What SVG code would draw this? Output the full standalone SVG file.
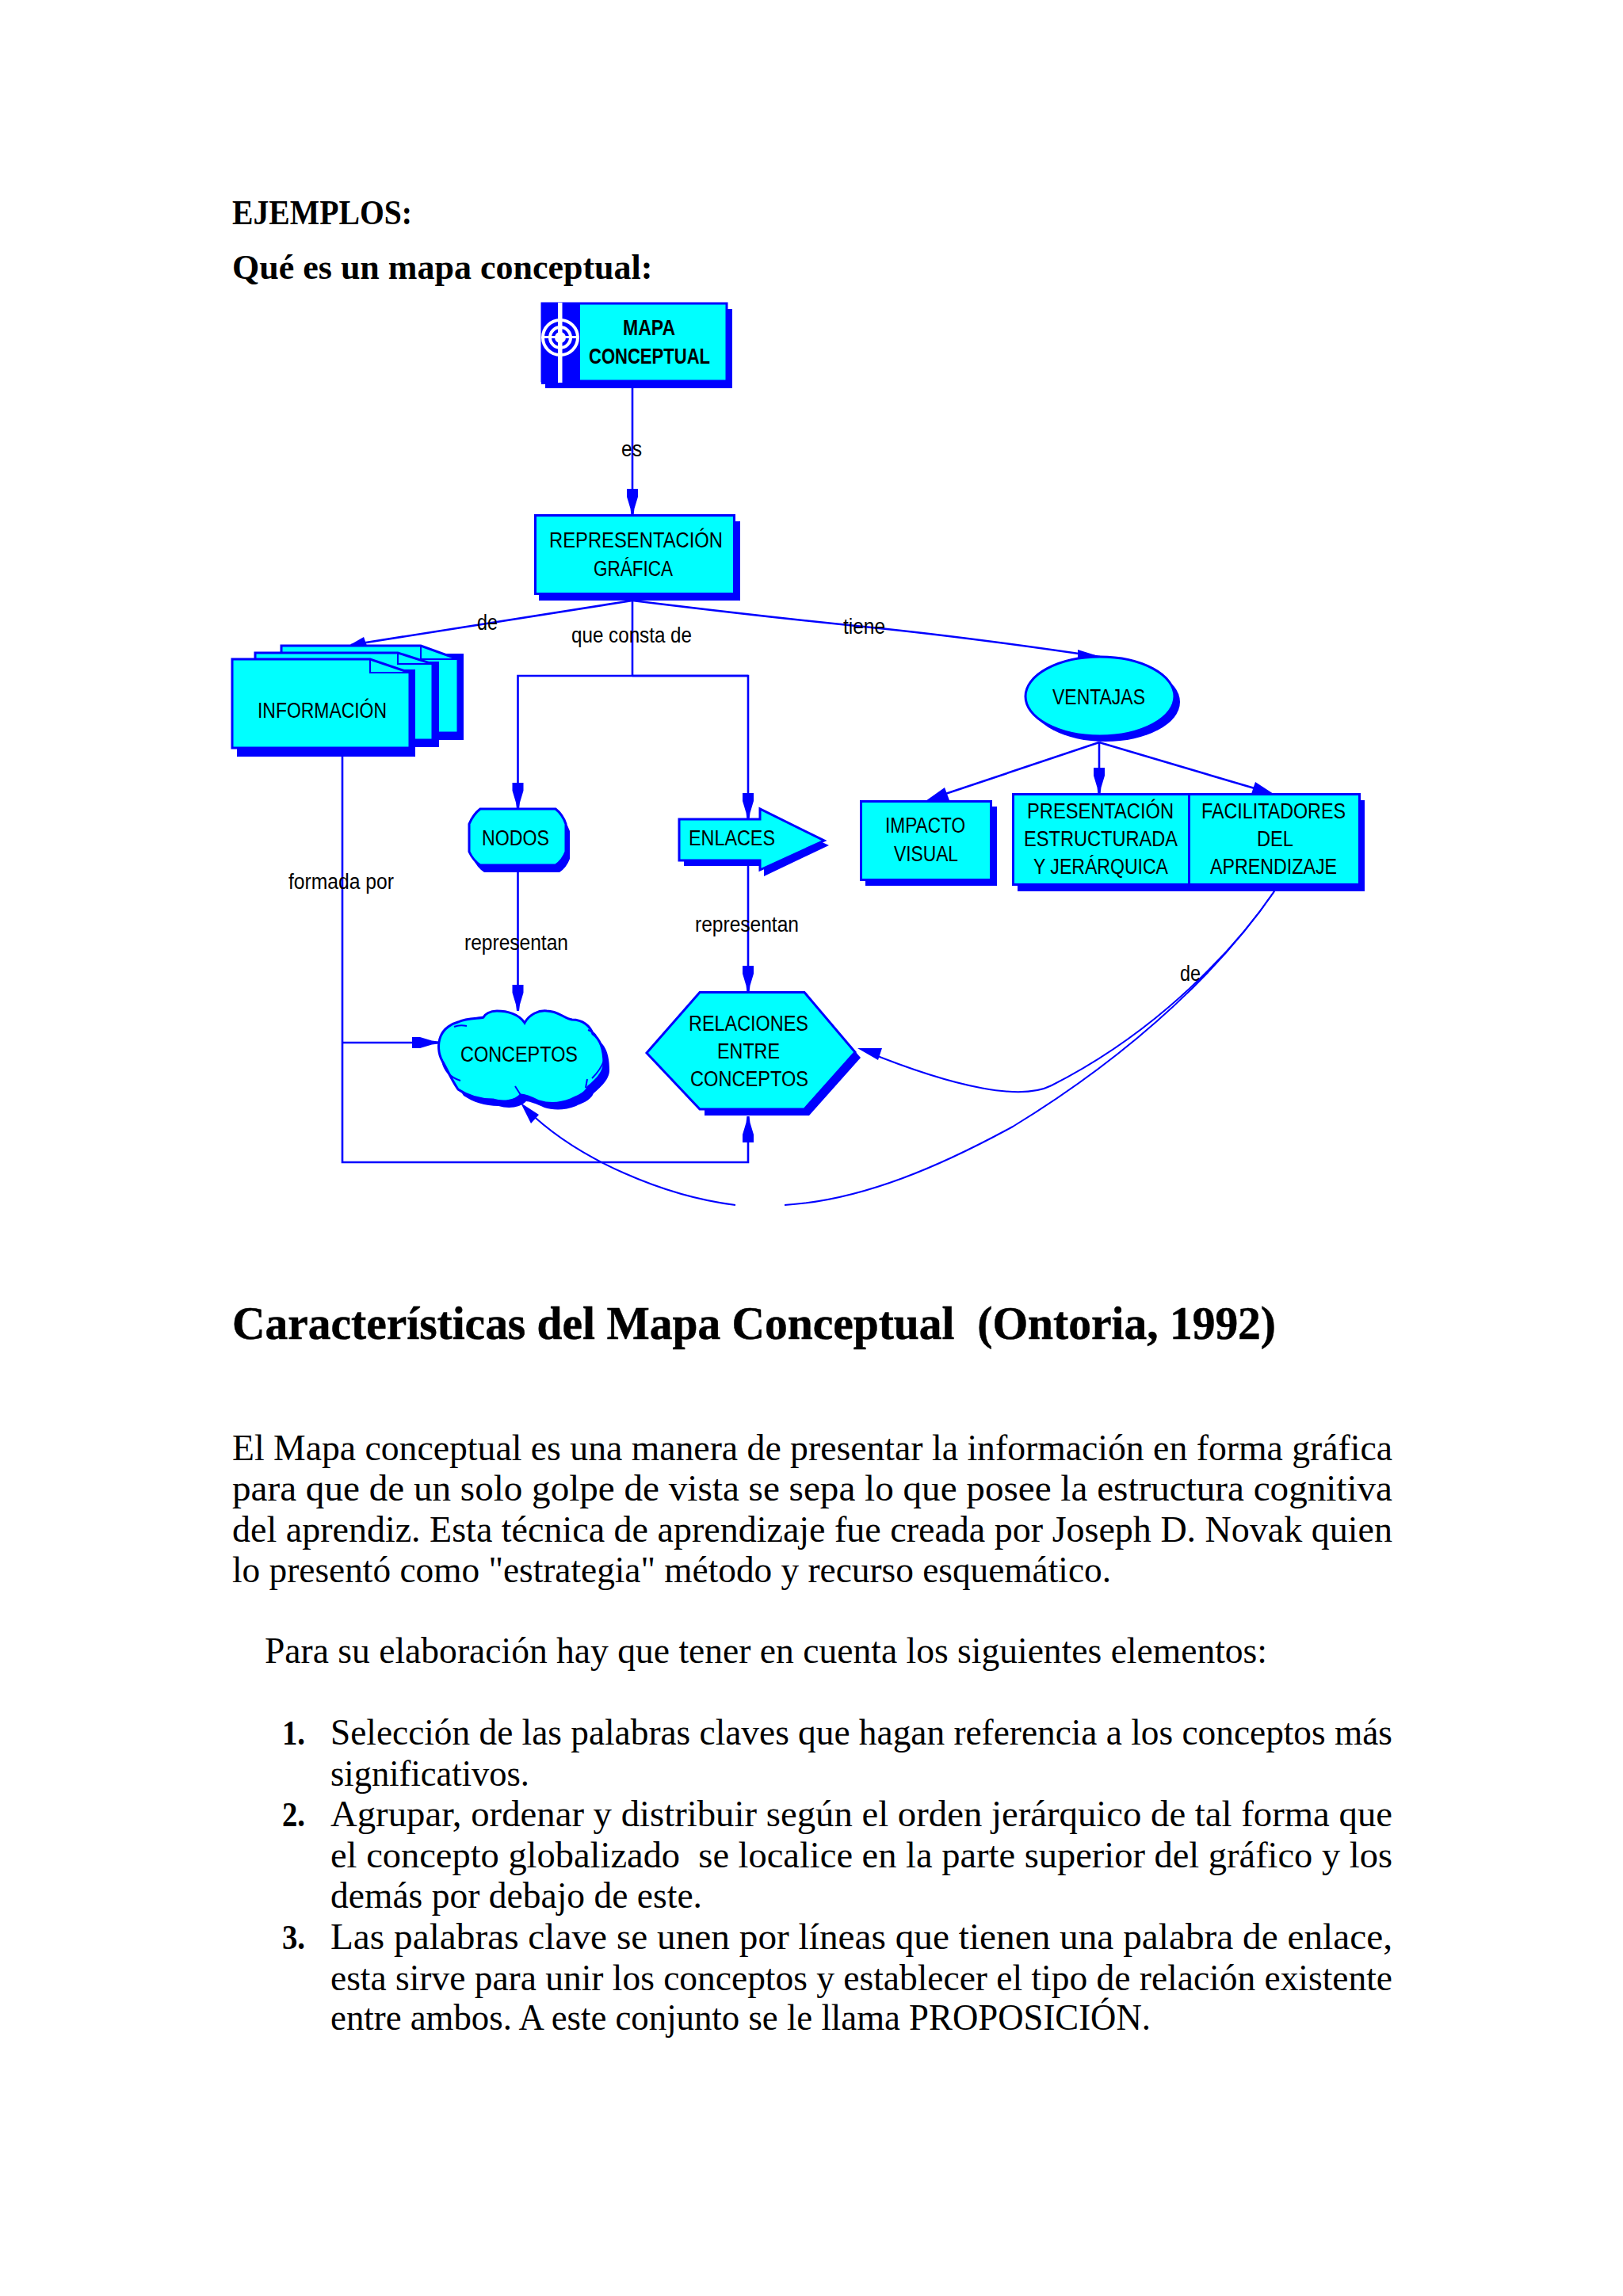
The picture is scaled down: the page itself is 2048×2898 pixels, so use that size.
<svg xmlns="http://www.w3.org/2000/svg" width="2048" height="2898" viewBox="0 0 2048 2898">
<style>
.t{font-family:"Liberation Serif",serif;font-size:46px;fill:#000;white-space:pre}
.h{font-family:"Liberation Serif",serif;font-weight:bold;font-size:44px;fill:#000;white-space:pre}
.l{font-family:"Liberation Sans",sans-serif;font-size:27px;fill:#000}
.b{font-weight:bold}
.n{fill:#0ff;stroke:#00f;stroke-width:3}
.s{fill:#00f}
.c{fill:none;stroke:#00f;stroke-width:2.6}
.thin{fill:none;stroke:#00f;stroke-width:2}
.w{fill:none;stroke:#fff;stroke-width:4}
</style>
<defs><marker id="a" markerUnits="userSpaceOnUse" markerWidth="34" markerHeight="16" refX="33" refY="7" orient="auto"><path d="M0 0L10 0L25 4.500L33 5.500V8.500L25 9.500L10 14L0 14Z" fill="#00f"/></marker></defs>
<rect width="2048" height="2898" fill="#fff"/>

<g id="page-text-top">
<text class="h" x="293" y="283" textLength="227" lengthAdjust="spacingAndGlyphs">EJEMPLOS:</text>
<text class="h" x="293" y="352">Qué es un mapa conceptual:</text>
</g>

<g id="connectors">
<path class="c" d="M798 489V650" marker-end="url(#a)"/>
<path class="c" d="M798 758L443 814"/>
<path class="s" d="M438 816L459 804L463 815Z"/>
<path class="c" d="M798 758Q960 778 1090 791T1388 829"/>
<path class="s" d="M1360 820L1392 830L1360 833Z"/>
<path class="c" d="M798 758V853"/>
<path class="c" d="M944 853H653.500V1021" marker-end="url(#a)"/>
<path class="c" d="M798 853H944V1034" marker-end="url(#a)"/>
<path class="c" d="M653.500 1100V1276" marker-end="url(#a)"/>
<path class="c" d="M944 1090V1252" marker-end="url(#a)"/>
<path class="c" d="M432 955V1467H944V1409" marker-end="url(#a)"/>
<path class="c" d="M432 1316H553" marker-end="url(#a)"/>
<path class="c" d="M1387 937L1175 1008"/>
<path class="s" d="M1168 1011L1192 994L1198 1010Z"/>
<path class="c" d="M1387 937V1002" marker-end="url(#a)"/>
<path class="c" d="M1387 937L1600 1000"/>
<path class="s" d="M1584 987L1607 1002L1579 1002Z"/>
<path class="thin" d="M1608 1125C1560 1195 1465 1300 1327 1370C1290 1389 1210 1375 1090 1326"/>
<path class="s" d="M1082 1323L1113 1323L1108 1338Z"/>
<path class="thin" d="M1608 1125C1550 1210 1445 1320 1278 1422C1190 1470 1090 1515 990 1521"/>
<path class="thin" d="M928 1521C840 1510 730 1465 664 1400"/>
<path class="s" d="M657 1392L680 1407L670 1418Z"/>
</g>

<g id="mapa">
<rect class="s" x="688" y="390" width="236" height="100"/>
<rect class="n" x="684" y="383" width="233" height="98"/>
<rect class="s" x="683" y="382" width="49" height="103"/>
<circle class="w" cx="707" cy="426" r="22"/><circle class="w" cx="707" cy="426" r="13"/>
<circle cx="707" cy="426" r="7" fill="#fff"/>
<rect x="704" y="382" width="5.500" height="101" fill="#fff"/>
<rect x="684" y="424" width="47" height="3" fill="#fff"/>
<text class="l b" x="786" y="423" textLength="66" lengthAdjust="spacingAndGlyphs">MAPA</text>
<text class="l b" x="743" y="459" textLength="153" lengthAdjust="spacingAndGlyphs">CONCEPTUAL</text>
</g>

<g id="representacion">
<rect class="s" x="680" y="658" width="254" height="100"/>
<rect class="n" x="675.500" y="650.500" width="251" height="99"/>
<text class="l" x="693" y="691" textLength="219" lengthAdjust="spacingAndGlyphs">REPRESENTACIÓN</text>
<text class="l" x="749" y="727" textLength="100" lengthAdjust="spacingAndGlyphs">GRÁFICA</text>
</g>

<g id="informacion">
<rect class="s" x="365" y="825" width="220" height="109"/>
<path class="n" d="M355 815H531L578 832V925H355Z"/><path class="thin" d="M531 815V832H578"/>
<rect class="s" x="330" y="835" width="224" height="108"/>
<path class="n" d="M322 824H502L546 838V934H322Z"/><path class="thin" d="M502 824V838H546"/>
<rect class="s" x="299" y="845" width="225" height="110"/>
<path class="n" d="M293 832H467L517 849V944H293Z"/><path class="thin" d="M467 832V849H517"/>
<text class="l" x="325" y="906" textLength="163" lengthAdjust="spacingAndGlyphs">INFORMACIÓN</text>
</g>

<g id="ventajas">
<ellipse class="s" cx="1395" cy="886" rx="94" ry="50"/>
<ellipse class="n" cx="1388" cy="879" rx="94" ry="50"/>
<text class="l" x="1328" y="889" textLength="117" lengthAdjust="spacingAndGlyphs">VENTAJAS</text>
</g>

<g id="impacto">
<rect class="s" x="1092" y="1018" width="166" height="100"/>
<rect class="n" x="1086.500" y="1011.500" width="164" height="99"/>
<text class="l" x="1117" y="1051" textLength="101" lengthAdjust="spacingAndGlyphs">IMPACTO</text>
<text class="l" x="1128" y="1087" textLength="81" lengthAdjust="spacingAndGlyphs">VISUAL</text>
</g>

<g id="presentacion">
<rect class="s" x="1284" y="1010" width="438" height="115"/>
<rect class="n" x="1278.500" y="1002.500" width="222" height="114"/>
<text class="l" x="1296" y="1033" textLength="185" lengthAdjust="spacingAndGlyphs">PRESENTACIÓN</text>
<text class="l" x="1292" y="1068" textLength="194" lengthAdjust="spacingAndGlyphs">ESTRUCTURADA</text>
<text class="l" x="1304" y="1103" textLength="170" lengthAdjust="spacingAndGlyphs">Y JERÁRQUICA</text>
</g>

<g id="facilitadores">
<rect class="n" x="1500.500" y="1002.500" width="215" height="114"/>
<text class="l" x="1516" y="1033" textLength="182" lengthAdjust="spacingAndGlyphs">FACILITADORES</text>
<text class="l" x="1586" y="1068" textLength="46" lengthAdjust="spacingAndGlyphs">DEL</text>
<text class="l" x="1527" y="1103" textLength="160" lengthAdjust="spacingAndGlyphs">APRENDIZAJE</text>
</g>

<g id="nodos">
<path class="s" d="M611 1030H706Q715 1037 719 1049V1084Q715 1095 706 1101H611Q602 1095 597 1084V1049Q602 1037 611 1030Z"/>
<path class="n" d="M606 1021H701Q710 1028 714 1040V1075Q710 1086 701 1092H606Q597 1086 592 1075V1040Q597 1028 606 1021Z"/>
<text class="l" x="608" y="1067" textLength="85" lengthAdjust="spacingAndGlyphs">NODOS</text>
</g>

<g id="enlaces">
<path class="s" d="M863 1042H964V1029L1046 1067L964 1106V1093H863Z"/>
<path class="n" d="M857 1034H959V1021L1040 1061L959 1098V1086H857Z"/>
<text class="l" x="869" y="1067" textLength="109" lengthAdjust="spacingAndGlyphs">ENLACES</text>
</g>

<g id="conceptos">
<path class="s" transform="translate(7 8)" d="M627 1276C640 1276 655 1280 662 1291C668 1280 680 1275 690 1276C705 1276 712 1286 722 1287C735 1287 745 1295 748 1305C758 1312 762 1325 762 1343C762 1355 750 1365 742 1372C738 1382 725 1385 720 1388C705 1394 690 1393 680 1390C670 1385 660 1382 657 1382C650 1390 635 1392 622 1388C605 1388 590 1383 578 1375C568 1360 562 1345 558 1339C553 1330 552 1318 556 1308C560 1298 570 1292 578 1290C590 1284 605 1286 610 1284C612 1280 618 1276 627 1276Z"/>
<path class="n" d="M627 1276C640 1276 655 1280 662 1291C668 1280 680 1275 690 1276C705 1276 712 1286 722 1287C735 1287 745 1295 748 1305C758 1312 762 1325 762 1343C762 1355 750 1365 742 1372C738 1382 725 1385 720 1388C705 1394 690 1393 680 1390C670 1385 660 1382 657 1382C650 1390 635 1392 622 1388C605 1388 590 1383 578 1375C568 1360 562 1345 558 1339C553 1330 552 1318 556 1308C560 1298 570 1292 578 1290C590 1284 605 1286 610 1284C612 1280 618 1276 627 1276Z"/>
<path class="thin" d="M558 1339Q562 1358 581 1364M650 1371L657 1382M762 1339Q758 1350 747 1361M739 1373L741 1362M573 1296Q580 1293 589 1295M742 1300Q748 1302 752 1307"/>
<text class="l" x="581" y="1340" textLength="148" lengthAdjust="spacingAndGlyphs">CONCEPTOS</text>
</g>

<g id="relaciones">
<path class="s" d="M889 1260H1021L1086 1335L1021 1408H889Z"/>
<path class="n" d="M883 1252.500H1015L1079 1328L1015 1400H883L816 1329Z"/>
<text class="l" x="869" y="1301" textLength="151" lengthAdjust="spacingAndGlyphs">RELACIONES</text>
<text class="l" x="905" y="1336" textLength="79" lengthAdjust="spacingAndGlyphs">ENTRE</text>
<text class="l" x="871" y="1371" textLength="149" lengthAdjust="spacingAndGlyphs">CONCEPTOS</text>
</g>

<g id="connector-labels">
<text class="l" x="784" y="576" textLength="26" lengthAdjust="spacingAndGlyphs">es</text>
<text class="l" x="602" y="795" textLength="26" lengthAdjust="spacingAndGlyphs">de</text>
<text class="l" x="721" y="811" textLength="152" lengthAdjust="spacingAndGlyphs">que consta de</text>
<text class="l" x="1064" y="800" textLength="53" lengthAdjust="spacingAndGlyphs">tiene</text>
<text class="l" x="364" y="1122" textLength="133" lengthAdjust="spacingAndGlyphs">formada por</text>
<text class="l" x="586" y="1199" textLength="131" lengthAdjust="spacingAndGlyphs">representan</text>
<text class="l" x="877" y="1176" textLength="131" lengthAdjust="spacingAndGlyphs">representan</text>
<text class="l" x="1489" y="1238" textLength="26" lengthAdjust="spacingAndGlyphs">de</text>
</g>

<g id="page-text">
<text class="h" x="293" y="1690" style="font-size:59px;stroke:#000;stroke-width:.5" textLength="1317" lengthAdjust="spacingAndGlyphs">Características del Mapa Conceptual  (Ontoria, 1992)</text>
<text class="t" x="293" y="1843" textLength="1464" lengthAdjust="spacingAndGlyphs">El Mapa conceptual es una manera de presentar la información en forma gráfica</text>
<text class="t" x="293" y="1894" textLength="1464" lengthAdjust="spacingAndGlyphs">para que de un solo golpe de vista se sepa lo que posee la estructura cognitiva</text>
<text class="t" x="293" y="1946" textLength="1464" lengthAdjust="spacingAndGlyphs">del aprendiz. Esta técnica de aprendizaje fue creada por Joseph D. Novak quien</text>
<text class="t" x="293" y="1997" textLength="1109" lengthAdjust="spacingAndGlyphs">lo presentó como "estrategia" método y recurso esquemático.</text>
<text class="t" x="334" y="2099" textLength="1265" lengthAdjust="spacingAndGlyphs">Para su elaboración hay que tener en cuenta los siguientes elementos:</text>
<text class="h" x="356" y="2202" textLength="29" lengthAdjust="spacingAndGlyphs">1.</text>
<text class="t" x="417" y="2202" textLength="1340" lengthAdjust="spacingAndGlyphs">Selección de las palabras claves que hagan referencia a los conceptos más</text>
<text class="t" x="417" y="2254" textLength="251" lengthAdjust="spacingAndGlyphs">significativos.</text>
<text class="h" x="356" y="2305" textLength="29" lengthAdjust="spacingAndGlyphs">2.</text>
<text class="t" x="417" y="2305" textLength="1340" lengthAdjust="spacingAndGlyphs">Agrupar, ordenar y distribuir según el orden jerárquico de tal forma que</text>
<text class="t" x="417" y="2357" textLength="1340" lengthAdjust="spacingAndGlyphs">el concepto globalizado  se localice en la parte superior del gráfico y los</text>
<text class="t" x="417" y="2408" textLength="469" lengthAdjust="spacingAndGlyphs">demás por debajo de este.</text>
<text class="h" x="356" y="2460" textLength="29" lengthAdjust="spacingAndGlyphs">3.</text>
<text class="t" x="417" y="2460" textLength="1340" lengthAdjust="spacingAndGlyphs">Las palabras clave se unen por líneas que tienen una palabra de enlace,</text>
<text class="t" x="417" y="2512" textLength="1340" lengthAdjust="spacingAndGlyphs">esta sirve para unir los conceptos y establecer el tipo de relación existente</text>
<text class="t" x="417" y="2562" textLength="1035" lengthAdjust="spacingAndGlyphs">entre ambos. A este conjunto se le llama PROPOSICIÓN.</text>
</g>
</svg>
